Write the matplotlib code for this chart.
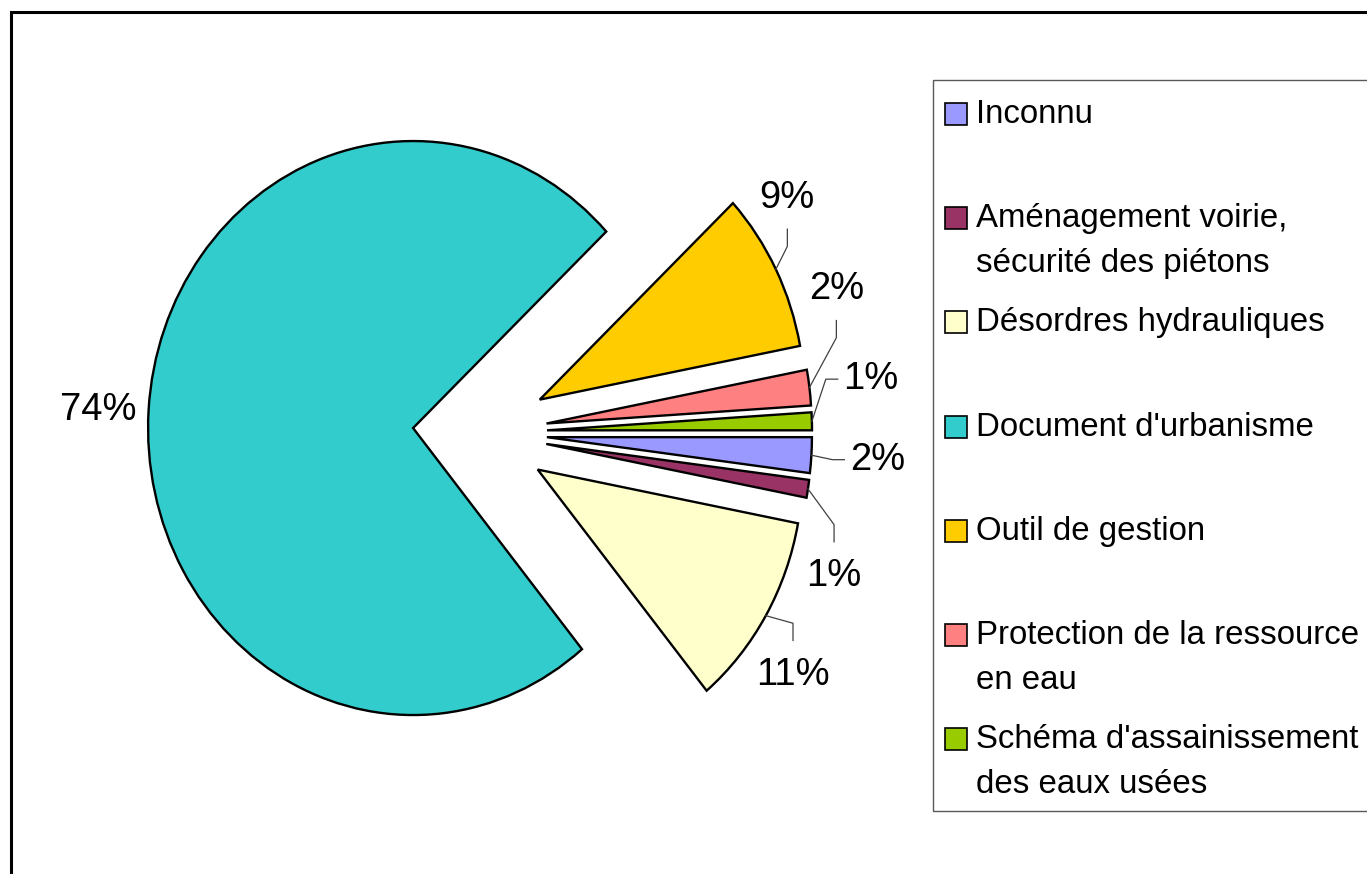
import matplotlib
matplotlib.use("Agg")
import matplotlib.pyplot as plt
from matplotlib.patches import Rectangle
import numpy as np

plt.rcParams['font.family'] = ['Liberation Sans', 'DejaVu Sans']

categories = ["Inconnu",
              "Aménagement voirie,\nsécurité des piétons",
              "Désordres hydrauliques",
              "Document d'urbanisme",
              "Outil de gestion",
              "Protection de la ressource\nen eau",
              "Schéma d'assainissement\ndes eaux usées"]
percent = [2, 1, 11, 74, 9, 2, 1]
colors = ["#9999FF", "#993366", "#FFFFCC", "#33CCCC", "#FFCC00", "#FF8080", "#99CC00"]

# where the % labels sit: turn away from the bisector (deg), distance, leader shape
label_nudge = [0, -14, -6, 0.5, 10, 16, 6.5]
label_dist = [1.25, 1.18, 1.20, 1.19, 1.17, 1.19, 1.235]
leader = ['side', 'down', 'down', None, 'up', 'up', 'side']

W, H = 1367, 874
fig = plt.figure(figsize=(W / 100, H / 100), dpi=100)
ax = fig.add_axes([0, 0, 1, 1])

wedges, _ = ax.pie(percent, colors=colors, explode=[0.253] * len(percent),
                   startangle=0, counterclock=False,
                   wedgeprops=dict(edgecolor='black', linewidth=1.7, joinstyle='miter'))

# the original pie is a bit taller than wide
cx, cy = 480, 432.6
ax.set_aspect('auto')
ax.set_xlim(-cx / 265, (W - cx) / 265)
ax.set_ylim(-(H - cy) / 287, cy / 287)
ax.axis('off')

for w, p, nudge, dist, kind in zip(wedges, percent, label_nudge, label_dist, leader):
    mid = np.deg2rad((w.theta1 + w.theta2) / 2)
    ox, oy = w.center
    a = mid + np.deg2rad(nudge)
    lx, ly = ox + dist * np.cos(a), oy + dist * np.sin(a)
    ax.text(lx, ly, f"{p}%", ha='center', va='center', fontsize=27.5)
    sx, sy = ox + np.cos(mid), oy + np.sin(mid)
    if kind == 'up':
        pts = [(sx, sy), (lx, ly - 0.17), (lx, ly - 0.11)]
    elif kind == 'down':
        pts = [(sx, sy), (lx, ly + 0.18), (lx, ly + 0.12)]
    elif kind == 'side':
        pts = [(sx, sy), (lx - 0.17, ly), (lx - 0.125, ly)]
    else:
        continue
    xs, ys = zip(*pts)
    ax.plot(xs, ys, color='#404040', lw=0.9)


def fxy(px, py):
    return px / W, 1 - py / H


# outer frame (runs off the right and bottom edges)
fig.add_artist(Rectangle(fxy(10.5, 950), 2, (950 - 12) / H, transform=fig.transFigure,
                         fill=False, edgecolor='black', lw=2.2))

# legend box
fig.add_artist(Rectangle(fxy(933, 811), (1450 - 933) / W, (811 - 80) / H,
                         transform=fig.transFigure, fill=False, edgecolor='#595959', lw=1))
for i, (name, c) in enumerate(zip(categories, colors)):
    base = 123 + i * 104.2
    fig.add_artist(Rectangle(fxy(945, base + 2), 22 / W, 22 / H, transform=fig.transFigure,
                             facecolor=c, edgecolor='black', lw=1.2))
    for k, line in enumerate(name.split("\n")):
        fig.text(*fxy(976, base + k * 45), line, fontsize=23.8, ha='left', va='baseline')

fig.savefig("out.png", dpi=100)
